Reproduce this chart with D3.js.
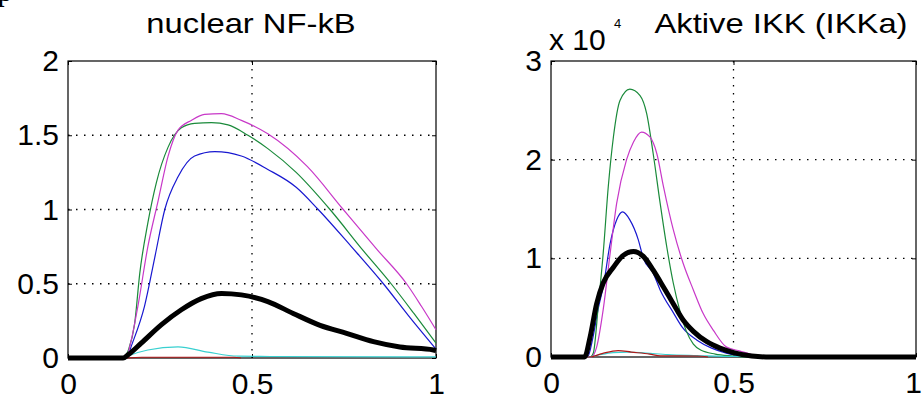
<!DOCTYPE html>
<html>
<head>
<meta charset="utf-8">
<script src="https://cdn.jsdelivr.net/npm/d3@7"></script>
<style>
  body { margin: 0; background: #fff; }
  svg { display: block; font-family: "Liberation Sans", Arial, sans-serif; }
  .tick text { font-size: 30px; fill: #000; }
</style>
</head>
<body>
<div id="chart"></div>
<script>
// x ticks shared by both panels
const xTicks = [0, 0.5, 1];

// panel 1: nuclear NF-kB
const nfkbTitle = "nuclear NF-kB";
const nfkbYTicks = [0, 0.5, 1, 1.5, 2];
const nfkbBlue = [[0,0],[0.16,0],[0.172,0.08],[0.208,0.35],[0.236,0.68],[0.263,1.0],[0.299,1.22],[0.344,1.36],[0.399,1.39],[0.471,1.36],[0.543,1.27],[0.62,1.15],[0.68,1.0],[0.77,0.75],[0.857,0.5],[0.93,0.27],[1,0.06]];
const nfkbGreen = [[0,0],[0.149,0],[0.165,0.06],[0.181,0.23],[0.195,0.57],[0.217,0.91],[0.24,1.18],[0.272,1.42],[0.308,1.55],[0.344,1.58],[0.39,1.585],[0.435,1.57],[0.489,1.5],[0.543,1.41],[0.62,1.25],[0.712,1.0],[0.8,0.73],[0.878,0.5],[0.94,0.3],[1,0.1]];
const nfkbMagenta = [[0,0],[0.158,0],[0.17,0.1],[0.19,0.35],[0.217,0.75],[0.245,1.06],[0.272,1.36],[0.299,1.535],[0.335,1.6],[0.371,1.64],[0.417,1.645],[0.471,1.6],[0.543,1.51],[0.65,1.29],[0.748,1.0],[0.84,0.73],[0.92,0.5],[0.96,0.35],[1,0.19]];
const nfkbCyan = [[0,0],[0.15,0],[0.17,0.02],[0.217,0.054],[0.299,0.075],[0.38,0.04],[0.462,0.012],[0.55,0.01],[1,0.008]];
const nfkbRed = [[0.16,0],[0.2,0.005],[0.45,0.005],[0.47,0]];
const nfkbBlack = [[0,0],[0.15,0],[0.165,0.025],[0.199,0.1],[0.254,0.225],[0.308,0.325],[0.362,0.4],[0.417,0.435],[0.471,0.425],[0.543,0.38],[0.612,0.3],[0.685,0.22],[0.757,0.166],[0.83,0.11],[0.902,0.074],[0.993,0.054],[1,0.05]];

// panel 2: Aktive IKK, values in units of 10^4
const ikkTitle = "Aktive IKK (IKKa)";
const ikkYTicks = [0, 1, 2, 3];
const ikkBlue = [[0,0],[0.1,0],[0.115,0.2],[0.13,0.5],[0.143,0.71],[0.162,1.15],[0.18,1.39],[0.196,1.47],[0.216,1.39],[0.239,1.19],[0.253,1.0],[0.28,0.85],[0.299,0.68],[0.335,0.45],[0.36,0.3],[0.4,0.17],[0.44,0.09],[0.48,0.04],[0.52,0.01],[0.55,0],[1,0]];
const ikkGreen = [[0,0],[0.108,0],[0.116,0.04],[0.13,0.54],[0.143,1.05],[0.157,1.73],[0.171,2.23],[0.189,2.6],[0.216,2.715],[0.244,2.65],[0.262,2.47],[0.28,2.06],[0.299,1.56],[0.317,1.12],[0.335,0.75],[0.353,0.47],[0.37,0.27],[0.39,0.13],[0.41,0.07],[0.45,0.03],[0.5,0.01],[0.53,0],[1,0]];
const ikkMagenta = [[0,0],[0.11,0],[0.125,0.1],[0.143,0.48],[0.162,1.05],[0.18,1.56],[0.207,2.0],[0.226,2.18],[0.248,2.28],[0.271,2.23],[0.29,2.06],[0.308,1.73],[0.335,1.29],[0.362,0.95],[0.39,0.68],[0.417,0.44],[0.445,0.27],[0.481,0.1],[0.518,0.06],[0.545,0.03],[0.58,0],[1,0]];
const ikkCyan = [[0,0],[0.105,0],[0.13,0.02],[0.17,0.045],[0.21,0.05],[0.26,0.04],[0.32,0.025],[0.4,0.015],[0.5,0.005],[1,0]];
const ikkRed = [[0,0],[0.105,0],[0.14,0.035],[0.184,0.065],[0.22,0.05],[0.27,0.03],[0.3,0.012],[0.4,0.01],[0.43,0]];
const ikkBlack = [[0,0],[0.092,0],[0.107,0.2],[0.125,0.54],[0.143,0.75],[0.171,0.91],[0.198,1.03],[0.226,1.07],[0.253,1.02],[0.28,0.88],[0.308,0.71],[0.335,0.54],[0.362,0.375],[0.39,0.26],[0.427,0.155],[0.463,0.09],[0.5,0.045],[0.55,0.01],[0.6,0],[1,0]];

const width = 922;
const height = 402;

const svg = d3.select("#chart")
    .append("svg")
    .attr("width", width)
    .attr("height", height);

// clipped letter left over from the page above the figure
svg.append("text")
    .attr("x", -4)
    .attr("y", 1)
    .attr("font-family", "Liberation Serif, serif")
    .attr("font-weight", "bold")
    .attr("font-size", 30)
    .text("p");

const colors = { blue: "#1818d0", green: "#1a8a3a", magenta: "#c838c8", cyan: "#38d0d0", red: "#b01818", black: "#000" };

function panel(opt) {
    const g = svg.append("g").attr("transform", `translate(${opt.left}, ${opt.top})`);
    const w = opt.w, h = opt.h;

    const x = d3.scaleLinear().domain([0, 1]).range([0, w]);
    const y = d3.scaleLinear().domain(opt.yDomain).range([h, 0]);

    // dotted grid
    g.selectAll(".gx")
        .data(xTicks.slice(1, -1))
        .enter()
        .append("line")
        .attr("x1", d => x(d)).attr("x2", d => x(d))
        .attr("y1", 0).attr("y2", h)
        .attr("stroke", "#000")
        .attr("stroke-width", 1.3)
        .attr("stroke-dasharray", "1.5,6.5");
    g.selectAll(".gy")
        .data(opt.yTicks.slice(1, -1))
        .enter()
        .append("line")
        .attr("x1", 0).attr("x2", w)
        .attr("y1", d => y(d)).attr("y2", d => y(d))
        .attr("stroke", "#000")
        .attr("stroke-width", 1.3)
        .attr("stroke-dasharray", "1.5,6.5");

    // axes with inward ticks
    const xAxis = g.append("g")
        .attr("transform", `translate(0, ${h})`)
        .call(d3.axisBottom(x).tickValues(xTicks).tickSize(-4).tickPadding(15).tickFormat(d3.format("")));
    const xTop = g.append("g")
        .call(d3.axisTop(x).tickValues(xTicks).tickSize(-4).tickFormat(""));
    const yAxis = g.append("g")
        .call(d3.axisLeft(y).tickValues(opt.yTicks).tickSize(-4).tickPadding(opt.yPad).tickFormat(d3.format("")));
    const yRight = g.append("g")
        .attr("transform", `translate(${w}, 0)`)
        .call(d3.axisRight(y).tickValues(opt.yTicks).tickSize(-4).tickFormat(""));
    [xAxis, xTop, yAxis, yRight].forEach(a => {
        a.select(".domain").remove();
        a.selectAll(".tick line").attr("stroke", "#000");
        a.selectAll("text").attr("font-family", null).attr("font-size", null);
    });
    // keep the last x label inside the window, as in the original
    xAxis.selectAll(".tick text").filter(d => d === 1).attr("dx", opt.lastDx || 0);

    g.append("rect")
        .attr("width", w).attr("height", h)
        .attr("fill", "none")
        .attr("stroke", "#000")
        .attr("stroke-width", 1.2);

    const line = d3.line()
        .x(d => x(d[0]))
        .y(d => y(d[1]))
        .curve(d3.curveMonotoneX);

    opt.series.forEach(s => {
        g.append("path")
            .datum(s.data)
            .attr("d", line)
            .attr("fill", "none")
            .attr("stroke", colors[s.color])
            .attr("stroke-width", s.color === "black" ? 5 : 1.2)
            .attr("stroke-linejoin", "round");
    });

    // title, slightly wide like the original raster
    svg.append("text")
        .attr("transform", `translate(${opt.left + opt.titleX}, 33) scale(1.17, 1)`)
        .attr("text-anchor", "middle")
        .attr("font-size", 28)
        .text(opt.title);

    return { x, y };
}

panel({
    left: 68, top: 61, w: 368, h: 297,
    yDomain: [0, 2], yTicks: nfkbYTicks, yPad: 9,
    title: nfkbTitle, titleX: 183,
    series: [
        { data: nfkbBlue, color: "blue" },
        { data: nfkbGreen, color: "green" },
        { data: nfkbMagenta, color: "magenta" },
        { data: nfkbCyan, color: "cyan" },
        { data: nfkbRed, color: "red" },
        { data: nfkbBlack, color: "black" }
    ]
});

panel({
    left: 551, top: 61, w: 365, h: 296,
    yDomain: [0, 3], yTicks: ikkYTicks, yPad: 9,
    title: ikkTitle, titleX: 230, lastDx: -3,
    series: [
        { data: ikkBlue, color: "blue" },
        { data: ikkGreen, color: "green" },
        { data: ikkMagenta, color: "magenta" },
        { data: ikkCyan, color: "cyan" },
        { data: ikkRed, color: "red" },
        { data: ikkBlack, color: "black" }
    ]
});

// exponent label of the IKK axis
const expo = svg.append("text")
    .attr("x", 549)
    .attr("y", 50)
    .attr("font-size", 30)
    .text("x 10");
expo.append("tspan")
    .attr("x", 614)
    .attr("y", 28)
    .attr("font-size", 13)
    .text("4");
</script>
</body>
</html>
